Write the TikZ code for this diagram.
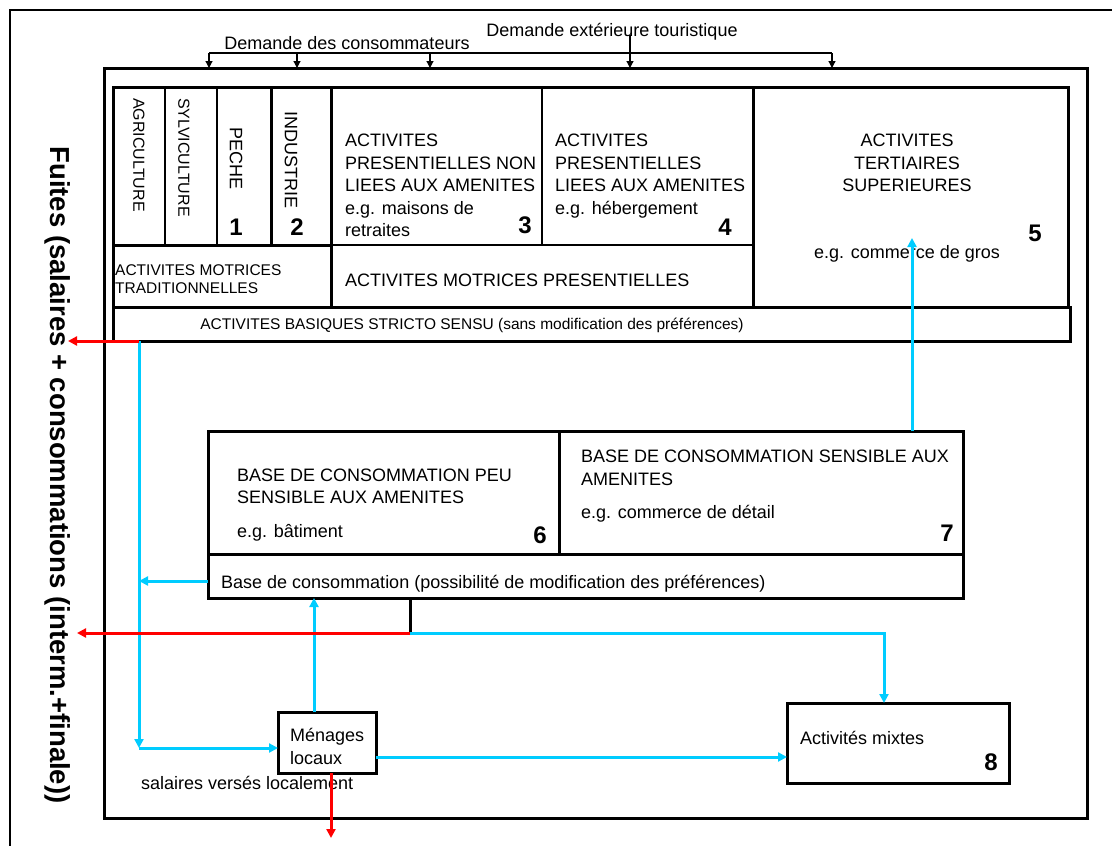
\documentclass[tikz,border=0pt]{standalone}
\usepackage{fontspec}
\setmainfont{Liberation Sans}
\usetikzlibrary{arrows.meta}
\definecolor{flowblue}{RGB}{0,204,255}
\definecolor{flowred}{RGB}{255,0,0}
\begin{document}
\begin{tikzpicture}[x=1pt,y=-1pt,
  thinbox/.style={draw,line width=1.5pt,inner sep=0pt,outer sep=0pt,anchor=north west},
  thickbox/.style={draw,line width=3pt,inner sep=0pt,outer sep=0pt,anchor=north west},
  thickline/.style={line width=3pt},
  txt/.style={inner sep=0pt,font=\fontsize{18}{22.5}\selectfont},
  smalltxt/.style={inner sep=0pt,font=\fontsize{15.5}{18}\selectfont},
  vtxt/.style={inner sep=0pt,rotate=-90,anchor=west},
  num/.style={inner sep=0pt,font=\fontsize{24}{24}\selectfont\bfseries},
  bflow/.style={flowblue,line width=3pt,-{Triangle[length=9pt,width=9pt]}},
  rflow/.style={flowred,line width=3pt,-{Triangle[length=9pt,width=9pt]}},
  dem/.style={line width=1.2pt,-{Triangle[length=7pt,width=7pt]}},
]
\useasboundingbox (0,0) rectangle (1112,846);
% outer frame (cropped)
\draw[line width=1.5pt] (10,846) -- (10,10) -- (1112,10);
% main frame
\node[thickbox,minimum width=983pt,minimum height=750pt] (main) at (104,68) {};

% top table cells
\node[thinbox,minimum width=52pt,minimum height=158pt] (agri) at (113,87) {};
\node[thinbox,minimum width=52pt,minimum height=158pt] (sylv) at (165,87) {};
\node[thinbox,minimum width=54pt,minimum height=158pt] (peche) at (217,87) {};
\node[thinbox,minimum width=60pt,minimum height=158pt] (indus) at (271,87) {};
\node[thinbox,minimum width=211pt,minimum height=158pt] (c3) at (331,87) {};
\node[thinbox,minimum width=211pt,minimum height=158pt] (c4) at (542,87) {};
\node[thinbox,minimum width=315pt,minimum height=220pt] (c5) at (753,87) {};
\node[thinbox,minimum width=218pt,minimum height=62pt] (trad) at (113,245) {};
\node[thinbox,minimum width=422pt,minimum height=62pt] (pres) at (331,245) {};
\node[thickbox,minimum width=957pt,minimum height=34pt] (basiq) at (113,307) {};
% thick structure of table
\draw[thickline] (113,87) rectangle (1068,307);
\draw[thickline] (113,245) -- (331,245);
\draw[thickline] (113,307) -- (1068,307);
\draw[thickline] (271,87) -- (271,245);
\draw[thickline] (331,87) -- (331,307);
\draw[thickline] (753,87) -- (753,307);

% texts of table
\node[vtxt,font=\fontsize{16}{18}\selectfont] (tagri) at (139,98) {AGRICULTURE};
\node[vtxt,font=\fontsize{16}{18}\selectfont] (tsylv) at (184,98) {SYLVICULTURE};
\node[vtxt,font=\fontsize{18}{20}\selectfont] (tpeche) at (236,127) {PECHE};
\node[vtxt,font=\fontsize{18}{20}\selectfont] (tindus) at (291,111) {INDUSTRIE};
\node[num] (n1) at (236,227) {1};
\node[num] (n2) at (297,227) {2};
\node[txt,anchor=base west,align=left] (t3) at (345,236.5) {ACTIVITES\\PRESENTIELLES NON\\LIEES AUX AMENITES\\e.g. maisons de\\retraites};
\node[num] (n3) at (525,225) {3};
\node[txt,anchor=base west,align=left] (t4) at (555,214) {ACTIVITES\\PRESENTIELLES\\LIEES AUX AMENITES\\e.g. hébergement};
\node[num] (n4) at (725,227) {4};
\node[txt,anchor=base,align=center] (t5) at (907,191.5) {ACTIVITES\\TERTIAIRES\\SUPERIEURES};
\node[txt,anchor=base] (t5b) at (907,258) {e.g. commerce de gros};
\node[num] (n5) at (1035,233) {5};
\node[smalltxt,anchor=base west,align=left] (ttrad) at (115,293.5) {ACTIVITES MOTRICES\\TRADITIONNELLES};
\node[txt,anchor=base west] (tpres) at (345,286.5) {ACTIVITES MOTRICES PRESENTIELLES};
\node[smalltxt,anchor=base] (tbas) at (472,329) {ACTIVITES BASIQUES STRICTO SENSU (sans modification des préférences)};

% demand
\node[txt,anchor=base] (dcons) at (347,49) {Demande des consommateurs};
\node[txt,anchor=base] (dext) at (612,36) {Demande extérieure touristique};
\coordinate (dl) at (209,53);
\coordinate (dr) at (832,53);
\draw[line width=1.2pt] (dl) -- (dr);
\draw[dem] (dl) -- (dl |- main.north);
\draw[dem] (297,53) -- (297,68);
\draw[dem] (430,53) -- (430,68);
\draw[dem] (630,35) -- (630,68);
\draw[dem] (dr) -- (dr |- main.north);

% base de consommation
\node[thickbox,minimum width=351pt,minimum height=123pt] (b6) at (208,431) {};
\node[thickbox,minimum width=404pt,minimum height=123pt] (b7) at (559,431) {};
\node[thickbox,minimum width=755pt,minimum height=44pt] (brow) at (208,554) {};
\node[txt,anchor=base west,align=left] (t6) at (237,537) {BASE DE CONSOMMATION PEU\\SENSIBLE AUX AMENITES\\[11pt]e.g. bâtiment};
\node[num] (n6) at (540,535) {6};
\node[txt,anchor=base west,align=left] (t7) at (581,518.5) {BASE DE CONSOMMATION SENSIBLE AUX\\AMENITES\\[11pt]e.g. commerce de détail};
\node[num] (n7) at (947,533) {7};
\node[txt,anchor=base west] (trow) at (221,588) {Base de consommation (possibilité de modification des préférences)};

% menages and mixtes
\node[thickbox,minimum width=98pt,minimum height=61pt] (men) at (278,712) {};
\node[txt,anchor=base west,align=left] (tmen) at (290,764) {Ménages\\locaux};
\node[txt,anchor=base west] (tsal) at (141,789) {salaires versés localement};
\node[thickbox,minimum width=222pt,minimum height=80pt] (mix) at (787,703) {};
\node[txt,anchor=base west] (tmix) at (800,744.5) {Activités mixtes};
\node[num] (n8) at (991,762) {8};

% leaks label
\node[inner sep=0pt,rotate=-90,font=\fontsize{27.5}{30}\selectfont\bfseries] (fuites) at (57.5,475) {Fuites (salaires + consommations (interm.+finale))};

% flows
\coordinate (j1) at (139,341);
\coordinate (j2) at (139,748);
\coordinate (j3) at (410,633);
\coordinate (leakA) at (68,341);
\coordinate (leakB) at (77,633);
\coordinate (leakC) at (331,838);
\draw[thickline] (brow.south -| j3) -- (j3);
\draw[bflow] (j1) -- (j2);
\draw[bflow] (j2) -- (j2 -| men.west);
\draw[bflow] (brow.west |- 0,581) -- (j1 |- 0,581);
\draw[bflow] (men.north -| 314,0) -- (brow.south -| 314,0);
\draw[bflow] (men.east |- 0,757) -- (mix.west |- 0,757);
\draw[bflow] (j3) -- (884,633) -- (mix.north -| 884,0);
\draw[bflow] (b7.north -| 912,0) -- (912,238);
\draw[rflow] (j1) -- (leakA);
\draw[rflow] (j3) -- (leakB);
\draw[rflow] (men.south -| leakC) -- (leakC);
\end{tikzpicture}
\end{document}
